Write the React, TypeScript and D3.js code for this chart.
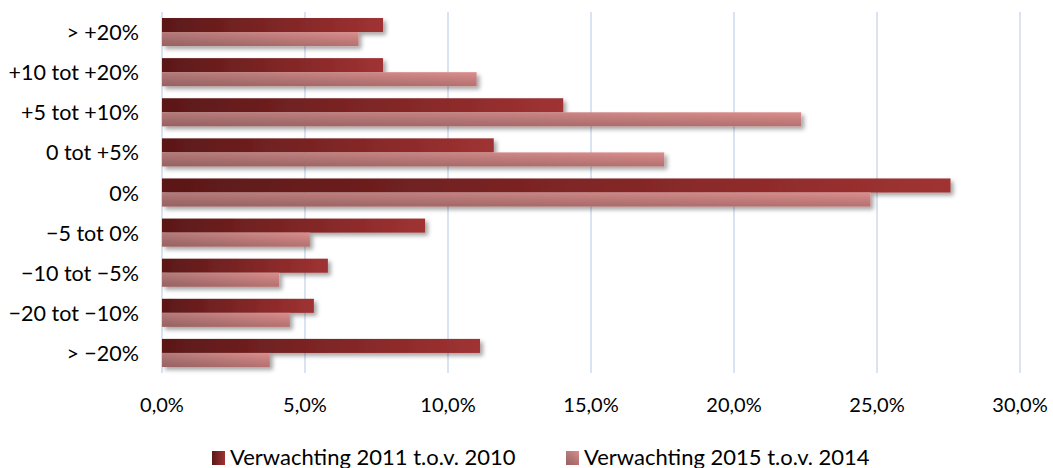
import React from "react";
import * as d3 from "d3";

const categories = [
  "> +20%",
  "+10 tot +20%",
  "+5 tot +10%",
  "0 tot +5%",
  "0%",
  "\u22125 tot 0%",
  "\u221210 tot \u22125%",
  "\u221220 tot \u221210%",
  "> \u221220%",
];
const series = ["Verwachting 2011 t.o.v. 2010", "Verwachting 2015 t.o.v. 2014"];
const values2011 = [7.73, 7.73, 14.03, 11.6, 27.57, 9.2, 5.8, 5.31, 11.12];
const values2015 = [6.87, 11.0, 22.35, 17.56, 24.77, 5.17, 4.1, 4.47, 3.77];
const xTicks = [0, 5, 10, 15, 20, 25, 30];

const W = 1053;
const H = 468;
const FONT = "Lato, 'Open Sans', sans-serif";

export default function App() {
  const x = d3.scaleLinear().domain([0, 30]).range([162, 1020]);
  const y = d3
    .scaleBand<string>()
    .domain(categories)
    .range([12, 373])
    .paddingInner(0.3)
    .paddingOuter(0.15);
  const ys = d3.scaleBand<string>().domain(series).range([0, y.bandwidth()]);
  const fmt = (v: number) => d3.format(".1f")(v).replace(".", ",") + "%";
  const data = [values2011, values2015];
  const legendX = [212, 566];

  return (
    <div style={{ position: "fixed", left: 0, top: 0 }}>
      <svg width={W} height={H} style={{ display: "block", background: "#fff" }}>
        <defs>
          <linearGradient id="gDark" x1="0" y1="0" x2="1" y2="0">
            <stop offset="0" stopColor="#5b1818" />
            <stop offset="1" stopColor="#a03232" />
          </linearGradient>
          <linearGradient id="gLight" x1="0" y1="0" x2="1" y2="0">
            <stop offset="0" stopColor="#b67a7a" />
            <stop offset="1" stopColor="#dc8e8c" />
          </linearGradient>
          <linearGradient id="gShade" x1="0" y1="0" x2="0" y2="1">
            <stop offset="0" stopColor="#000" stopOpacity="0" />
            <stop offset="1" stopColor="#2a0a0a" stopOpacity="0.22" />
          </linearGradient>
          <filter id="shadow" x="-5%" y="-30%" width="120%" height="180%">
            <feDropShadow dx="3" dy="3" stdDeviation="2.2" floodColor="#000" floodOpacity="0.35" />
          </filter>
        </defs>

        {xTicks.map((t) => (
          <line
            key={t}
            x1={x(t)}
            x2={x(t)}
            y1={12}
            y2={373}
            stroke="#d5e0f0"
            strokeWidth={1.8}
          />
        ))}

        {categories.map((c, i) => {
          const y0 = y(c)!;
          const h = ys.bandwidth();
          return (
            <g key={c} filter="url(#shadow)">
              <rect
                x={x(0)}
                y={y0 + ys(series[0])!}
                width={x(data[0][i]) - x(0)}
                height={h}
                fill="url(#gDark)"
              />
              <rect
                x={x(0)}
                y={y0 + ys(series[1])!}
                width={x(data[1][i]) - x(0)}
                height={h}
                fill="url(#gLight)"
              />
              <rect
                x={x(0)}
                y={y0 + ys(series[1])!}
                width={x(data[1][i]) - x(0)}
                height={h}
                fill="url(#gShade)"
              />
            </g>
          );
        })}

        {categories.map((c) => (
          <text
            key={c}
            x={139}
            y={y(c)! + y.bandwidth() / 2}
            textAnchor="end"
            dominantBaseline="central"
            fontFamily={FONT}
            fontSize={21.5}
            fill="#000"
          >
            {c}
          </text>
        ))}

        {xTicks.map((t) => (
          <text
            key={t}
            x={x(t)}
            y={412}
            textAnchor="middle"
            fontFamily={FONT}
            fontSize={20}
            fill="#000"
          >
            {fmt(t)}
          </text>
        ))}

        {series.map((s, i) => (
          <g key={s}>
            <rect
              x={legendX[i]}
              y={451}
              width={13}
              height={14}
              fill={i === 0 ? "url(#gDark)" : "url(#gLight)"}
            />
            {i === 1 && (
              <rect x={legendX[i]} y={451} width={13} height={14} fill="url(#gShade)" />
            )}
            <text
              x={legendX[i] + 18}
              y={465}
              fontFamily={FONT}
              fontSize={22}
              fill="#000"
            >
              {s}
            </text>
          </g>
        ))}
      </svg>
    </div>
  );
}
